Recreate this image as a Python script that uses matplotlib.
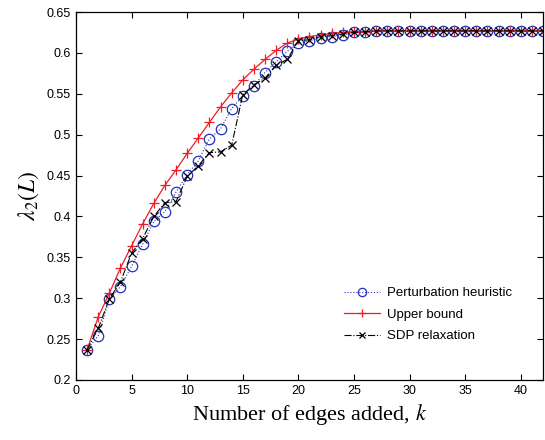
import matplotlib
matplotlib.use("Agg")
import matplotlib.pyplot as plt
import numpy as np

k = list(range(1, 43))
plateau = 0.627

perturbation = [0.237, 0.254, 0.299, 0.314, 0.339, 0.366, 0.394, 0.406, 0.430, 0.451,
                 0.468, 0.495, 0.507, 0.532, 0.547, 0.560, 0.576, 0.589, 0.602, 0.612,
                 0.615, 0.618, 0.620, 0.622, 0.625, 0.625] + [plateau] * 16
upper_bound = [0.237, 0.277, 0.306, 0.337, 0.364, 0.391, 0.416, 0.438, 0.457, 0.477,
               0.496, 0.515, 0.534, 0.551, 0.567, 0.580, 0.592, 0.603, 0.612, 0.617,
               0.620, 0.622, 0.624, 0.625, 0.626, 0.626] + [plateau] * 16
sdp = [0.237, 0.263, 0.299, 0.320, 0.355, 0.373, 0.400, 0.417, 0.418, 0.449,
       0.462, 0.478, 0.479, 0.487, 0.549, 0.561, 0.569, 0.585, 0.592, 0.615,
       0.616, 0.620, 0.621, 0.623, 0.625, 0.626] + [plateau] * 16

xticks = [0, 5, 10, 15, 20, 25, 30, 35, 40]
yticks = [0.2, 0.25, 0.3, 0.35, 0.4, 0.45, 0.5, 0.55, 0.6, 0.65]
ytick_labels = ["0.2", "0.25", "0.3", "0.35", "0.4", "0.45", "0.5", "0.55", "0.6", "0.65"]

plt.rcParams["font.family"] = ["Liberation Sans", "DejaVu Sans"]
plt.rcParams["mathtext.fontset"] = "stix"

fig = plt.figure(figsize=(5.45, 4.4), dpi=100)
ax = fig.add_axes([0.1394, 0.1364, 0.8569, 0.8363])

ax.plot(k, perturbation, linestyle=":", color="#2233bb", marker="o", markersize=7.5,
        markerfacecolor="none", markeredgewidth=0.9, linewidth=0.8, label="Perturbation heuristic")
ax.plot(k, upper_bound, linestyle="-", color="#ee1c24", marker="+", markersize=7,
        markeredgewidth=0.9, linewidth=0.9, label="Upper bound")
ax.plot(k, sdp, linestyle="-.", color="black", marker="x", markersize=5.5,
        markeredgewidth=0.9, linewidth=0.8, label="SDP relaxation")

ax.set_xlim(0, 42)
ax.set_ylim(0.2, 0.65)
ax.set_xticks(xticks)
ax.set_yticks(yticks)
ax.set_yticklabels(ytick_labels)
ax.tick_params(direction="in", top=True, right=True, labelsize=9, length=4, width=0.8)
for s in ax.spines.values():
    s.set_linewidth(0.9)

ax.set_xlabel("Number of edges added, $k$", fontsize=16, family="Liberation Serif")
ax.set_ylabel(r"$\lambda_2(L)$", fontsize=17)

leg = ax.legend(loc="lower right", bbox_to_anchor=(0.951, 0.081), frameon=False, fontsize=9.5,
                handlelength=2.8, handletextpad=0.5, labelspacing=0.7, borderaxespad=0.2,
                markerscale=0.8)

fig.savefig("out.png", dpi=100)
